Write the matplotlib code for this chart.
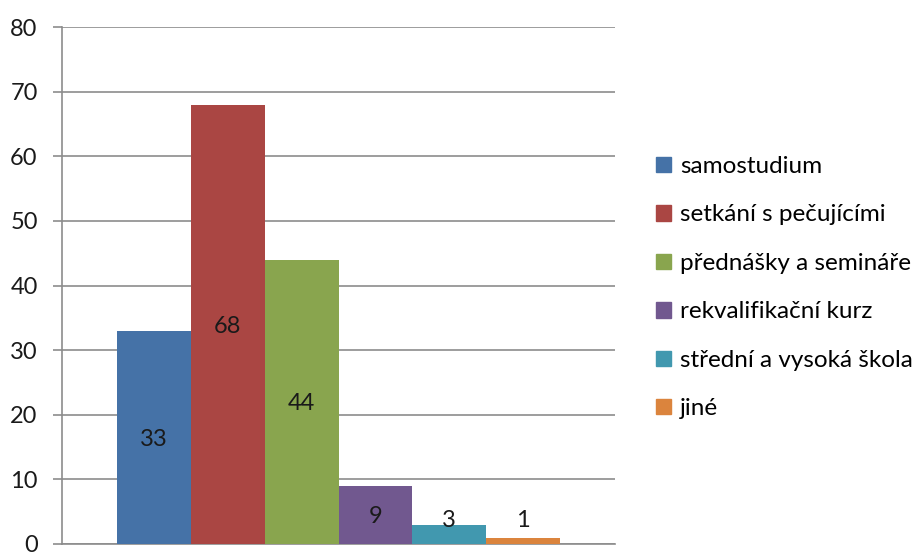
import matplotlib
matplotlib.use("Agg")
import matplotlib.pyplot as plt
from matplotlib.patches import Patch

categories = ["samostudium", "setkání s pečujícími", "přednášky a semináře",
              "rekvalifikační kurz", "střední a vysoká škola", "jiné"]
values = [33, 68, 44, 9, 3, 1]
colors = ["#4572A7", "#AA4643", "#89A54E", "#71588F", "#4198AF", "#DB843D"]
yticks = [0, 10, 20, 30, 40, 50, 60, 70, 80]

plt.rcParams['font.family'] = ['Lato', 'DejaVu Sans']
fig = plt.figure(figsize=(9.18, 5.52), dpi=100)
W, H = 918, 552
left, right, top, bottom = 62, 615, 27, 544
ax = fig.add_axes([left / W, 1 - bottom / H, (right - left) / W, (bottom - top) / H])

n = len(values)
bw = 0.8 / n
x0 = -0.4 + bw / 2
for i, (v, c) in enumerate(zip(values, colors)):
    x = x0 + i * bw
    ax.bar(x, v, width=bw, color=c, zorder=3)
    ly = v / 2 if v >= 5 else 4.0
    ax.text(x, ly, str(v), ha='center', va='center_baseline', fontsize=17, color='#1a1a1a', zorder=4)

ax.set_xlim(-0.5, 0.5)
ax.set_ylim(0, 80)
ax.set_yticks(yticks)
ax.set_xticks([])
ax.yaxis.grid(True, color='#8c8c8c', linewidth=1.2, zorder=0)
for s in ['top', 'right']:
    ax.spines[s].set_visible(False)
for s in ['left', 'bottom']:
    ax.spines[s].set_color('#8c8c8c')
    ax.spines[s].set_linewidth(1.2)
ax.tick_params(axis='y', direction='out', length=6.5, width=1.2, color='#8c8c8c',
               labelsize=17, labelcolor='#1a1a1a', pad=11)

handles = [Patch(facecolor=c, edgecolor=c) for c in colors]
fig.legend(handles, categories, loc='upper left', bbox_to_anchor=(656 / W, 1 - 156 / H),
           frameon=False, fontsize=17.5, handlelength=0.6, handleheight=0.6,
           handletextpad=0.4, labelspacing=1.13, borderaxespad=0, borderpad=0)

fig.savefig("out.png", dpi=100)
